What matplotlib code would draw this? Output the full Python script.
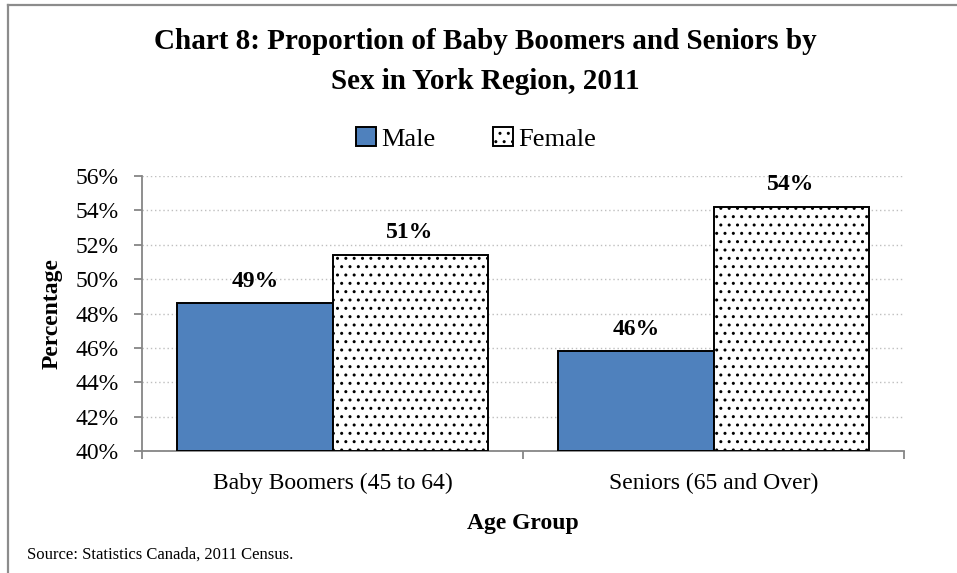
import matplotlib
matplotlib.use("Agg")
import matplotlib.pyplot as plt
from matplotlib.lines import Line2D

plt.rcParams['font.family'] = ['Liberation Serif', 'DejaVu Serif']
plt.rcParams['hatch.linewidth'] = 1.0
plt.rcParams['hatch.color'] = 'black'

# data
categories = ['Baby Boomers (45 to 64)', 'Seniors (65 and Over)']
male = [48.6, 45.8]
female = [51.4, 54.2]
yticks = [40, 42, 44, 46, 48, 50, 52, 54, 56]

W, H = 957, 573
fig = plt.figure(figsize=(W / 100, H / 100), dpi=100)
ax = fig.add_axes([142 / W, 1 - 451 / H, 762 / W, 275 / H])

x = range(len(categories))
bw = 0.407
grey = '#868686'

bars_m = ax.bar([i - bw / 2 for i in x], [v - 40 for v in male], bw, bottom=40,
                color='#4F81BD', edgecolor='black', linewidth=1.4, label='Male', zorder=3)
bars_f = ax.bar([i + bw / 2 for i in x], [v - 40 for v in female], bw, bottom=40,
                color='white', edgecolor='black', linewidth=1.4, hatch='..', label='Female', zorder=3)

for bars, vals in ((bars_m, male), (bars_f, female)):
    for b, v in zip(bars, vals):
        ax.annotate(f'{v:.0f}%', (b.get_x() + b.get_width() / 2, v),
                    xytext=(0, 12), textcoords='offset points', ha='center', va='baseline',
                    fontsize=17, fontweight='bold')

ax.set_xlim(-0.5, 1.5)
ax.set_ylim(40, 56)
ax.set_yticks(yticks)
ax.set_yticklabels([f'{t}%' for t in yticks], fontsize=17)
ax.yaxis.grid(True, linestyle=(0, (1, 2)), color='#BFBFBF', linewidth=1.0, zorder=0)

ax.set_xticks([-0.5, 0.5, 1.5])
ax.set_xticklabels([])
ax.set_xticks(list(x), minor=True)
ax.set_xticklabels(categories, minor=True, fontsize=17)
ax.tick_params(axis='x', which='major', direction='out', length=6, color=grey, width=1.3)
ax.tick_params(axis='x', which='minor', length=0, pad=16)
ax.tick_params(axis='y', direction='out', length=6, color=grey, width=1.3, pad=11)

for s in ('top', 'right'):
    ax.spines[s].set_visible(False)
for s in ('left', 'bottom'):
    ax.spines[s].set_color(grey)
    ax.spines[s].set_linewidth(1.3)

fig.text(485 / W, 1 - 49 / H, 'Chart 8: Proportion of Baby Boomers and Seniors by',
         ha='center', va='baseline', fontsize=21, fontweight='bold')
fig.text(485 / W, 1 - 89 / H, 'Sex in York Region, 2011',
         ha='center', va='baseline', fontsize=21, fontweight='bold')

fig.legend(handles=[bars_m, bars_f], labels=['Male', 'Female'], loc='center',
           bbox_to_anchor=(476 / W, 1 - 139 / H), ncol=2, frameon=False, fontsize=19,
           handlelength=0.75, handleheight=0.75, handletextpad=0.2, columnspacing=2.2)

fig.text(52 / W, 1 - 314 / H, 'Percentage', rotation=90, ha='center', va='center',
         fontsize=17, fontweight='bold')
fig.text(523 / W, 1 - 529 / H, 'Age Group', ha='center', va='baseline',
         fontsize=17, fontweight='bold')
fig.text(27 / W, 1 - 559 / H, 'Source: Statistics Canada, 2011 Census.', ha='left',
         va='baseline', fontsize=12)

# chart border (top and left edges only visible)
fig.add_artist(Line2D([8 / W, 8 / W], [0, 1 - 5 / H], color='#8C8C8C', linewidth=1.6))
fig.add_artist(Line2D([8 / W, 1], [1 - 5 / H, 1 - 5 / H], color='#8C8C8C', linewidth=1.6))

fig.savefig('out.png', dpi=100)
